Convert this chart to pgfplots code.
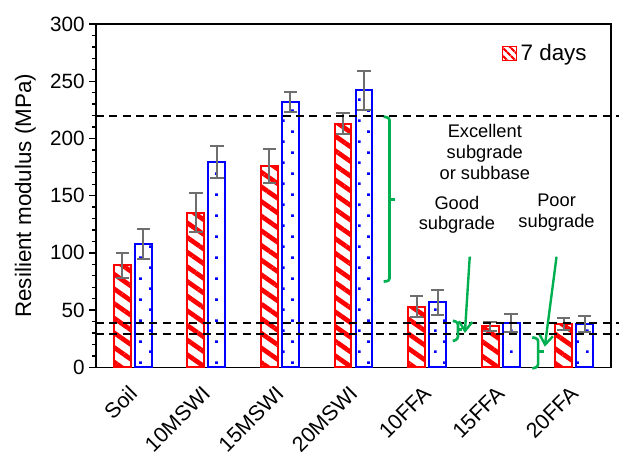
\documentclass[border=0pt]{standalone}
\usepackage{fontspec}
\setmainfont{Liberation Sans}
\usepackage{pgfplots}
\pgfplotsset{compat=1.18}
\usepackage{pgfplotstable}
\usetikzlibrary{patterns.meta, arrows.meta}
\definecolor{exgreen}{RGB}{0,176,80}
\definecolor{errgray}{RGB}{110,110,110}

\tikzdeclarepattern{
  name=bluedots,
  type=uncolored,
  bounding box={(0pt,0pt) and (14pt,15.75pt)},
  tile size={(14pt,15.75pt)},
  code={
    \fill (0pt,0pt) rectangle (2pt,2pt);
    \fill (7pt,7.875pt) rectangle (9pt,9.875pt);
  }
}

\pgfplotstableread{
x r re b be
0 89 11 108 13
1 135 17 179 14
2 176 15 232 9
3 213 9 242 17
4 53 9 57 11
5 36 4 39 8
6 38 5 38 7
}\mrdata

\begin{document}
\begin{tikzpicture}
\begin{axis}[
  scale only axis, width=386.25pt, height=257.5pt,
  xmin=-0.5, xmax=6.5, ymin=0, ymax=300,
  ybar, bar width=0.23,
  xtick={0,...,6},
  xticklabels={Soil,10MSWI,15MSWI,20MSWI,10FFA,15FFA,20FFA},
  xtick style={draw=none},
  xticklabel style={xshift=-4pt, yshift=-7pt, rotate=45, anchor=north east, inner sep=0.5pt, font=\fontsize{16}{19}\selectfont},
  ytick={0,50,...,300}, minor y tick num=4, ytick pos=left, tick align=outside,
  major tick length=5pt, minor tick length=3pt,
  ytick style={black, line width=1pt},
  yticklabel style={font=\fontsize{15.5}{18}\selectfont},
  /pgf/number format/assume math mode=true,
  ylabel={Resilient modulus (MPa)},
  ylabel style={font=\fontsize{16.8}{19}\selectfont},
  ylabel shift=4pt,
  axis line style={line width=1.2pt},
  clip=false,
  legend style={at={(rel axis cs:0.787,0.913)}, anchor=west, draw=none, fill=none,
    font=\fontsize{16.8}{19}\selectfont, inner sep=0pt},
  legend cell align=left,
  error bars/y dir=both, error bars/y explicit,
  error bars/error bar style={errgray, line width=1.5pt},
  error bars/error mark options={errgray, line width=1.5pt, mark size=5pt, rotate=90},
]
\addplot[draw=red, line width=1.5pt, pattern={Lines[angle=-35, distance=9pt, line width=3.5pt]}, pattern color=red, bar shift=-0.143,
  legend image code/.code={\draw[draw=red, line width=1pt, pattern={Lines[angle=-45, distance=4pt, line width=1.8pt]}, pattern color=red] (0pt,-5pt) rectangle (10.5pt,5.5pt);}]
  table[x=x, y=r, y error=re] {\mrdata};
\addlegendentry{7 days}
\addplot[draw=blue, line width=1.5pt, pattern=bluedots, pattern color=blue, bar shift=0.143, forget plot]
  table[x=x, y=b, y error=be] {\mrdata};

\coordinate (SW) at (rel axis cs:0,0);
\coordinate (NE) at (rel axis cs:1,1);

\draw[black, line width=1.5pt, dash pattern=on 6pt off 4pt] (axis cs:-0.5,220) -- (axis cs:6.61,220);
\draw[black, line width=1.5pt, dash pattern=on 6pt off 4pt] (axis cs:-0.5,39) -- (axis cs:6.61,39);
\draw[black, line width=1.5pt, dash pattern=on 6pt off 4pt] (axis cs:-0.5,29) -- (axis cs:6.61,29);

\draw[exgreen, line width=2pt, rounded corners=2pt] (axis cs:3.41,219) -- (axis cs:3.49,218) -- (axis cs:3.49,75.5) -- (axis cs:3.41,75);
\draw[exgreen, line width=2pt] (axis cs:3.49,146.8) -- (axis cs:3.57,146.8);

\draw[exgreen, line width=2pt, rounded corners=2pt] (axis cs:4.35,40.7) -- (axis cs:4.42,39.5) -- (axis cs:4.42,24.5) -- (axis cs:4.35,23);
\draw[exgreen, line width=2pt] (axis cs:4.42,33.2) -- (axis cs:4.47,33.2);

\draw[exgreen, line width=2pt, rounded corners=2pt] (axis cs:5.43,26.2) -- (axis cs:5.51,25) -- (axis cs:5.51,0.5) -- (axis cs:5.43,-1);
\draw[exgreen, line width=2pt] (axis cs:5.51,13.6) -- (axis cs:5.59,13.6);

\draw[exgreen, line width=1.8pt, -{Straight Barb[length=7pt, width=10pt, line width=1.8pt]}] (axis cs:4.58,96.7) -- (axis cs:4.514,30);
\draw[exgreen, line width=1.8pt, -{Straight Barb[length=7pt, width=10pt, line width=1.8pt]}] (axis cs:5.76,96.7) -- (axis cs:5.6,18);

\node[align=center, font=\fontsize{13.7}{15.4}\selectfont] at (axis cs:4.785,188.2) {Excellent\\subgrade\\or subbase};
\node[align=center, font=\fontsize{13.7}{15.4}\selectfont] at (axis cs:4.405,133.2) {Good\\subgrade};
\node[align=center, font=\fontsize{13.7}{15.4}\selectfont] at (axis cs:5.76,135) {Poor\\subgrade};
\end{axis}
\pgfresetboundingbox
\path[use as bounding box] ([shift={(-72pt,-68pt)}]SW) rectangle ([shift={(6pt,18pt)}]NE);
\end{tikzpicture}
\end{document}
